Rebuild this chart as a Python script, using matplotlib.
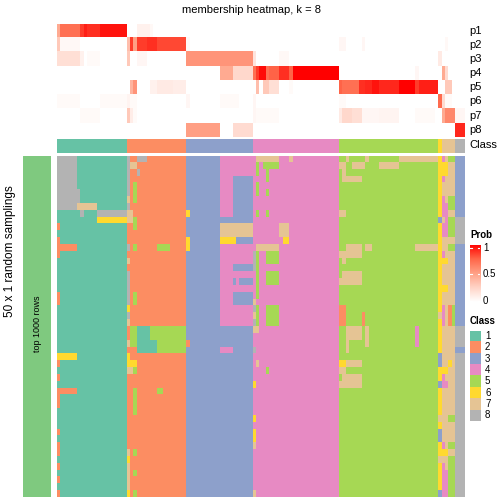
import matplotlib.pyplot as plt
import numpy as np
from matplotlib.colors import ListedColormap, LinearSegmentedColormap

plt.rcParams['font.family'] = ['Liberation Sans', 'DejaVu Sans']

class_colors = ['#66C2A5', '#FC8D62', '#8DA0CB', '#E78AC3',
                '#A6D854', '#FFD92F', '#E5C494', '#B3B3B3']
class_names = ['1', '2', '3', '4', '5', '6', '7', '8']
class_sizes = [21, 18, 20, 26, 30, 1, 4, 3]   # samples per class, left to right
prob_labels = ['p1', 'p2', 'p3', 'p4', 'p5', 'p6', 'p7', 'p8']

# membership probabilities: (first sample, last sample, prob)
p1 = [(0, 0, .45), (1, 6, .7), (7, 7, .85), (8, 8, .92), (9, 12, .88), (13, 20, .95),
      (24, 27, .08), (28, 28, .04)]
p2 = [(0, 0, .3), (1, 6, .04), (21, 21, .35), (22, 22, .85), (23, 23, .5), (24, 26, .85),
      (27, 29, .88), (30, 38, .82), (39, 39, .04), (85, 86, .05), (92, 92, .05), (117, 117, .04)]
p3 = [(0, 6, .18), (7, 7, .08), (9, 12, .03), (21, 21, .3), (24, 26, .05), (39, 58, .55),
      (59, 59, .15), (67, 69, .04), (115, 115, .12)]
p4 = [(49, 52, .45), (53, 58, .22), (59, 59, .7), (60, 60, .85), (61, 62, .97), (63, 63, .7),
      (64, 66, .75), (67, 69, .88), (70, 70, .75), (71, 84, 1.0), (108, 108, .05),
      (116, 116, .45), (117, 117, .2)]
p5 = [(22, 22, .4), (23, 23, .55), (28, 29, .08), (30, 34, .12), (35, 38, .1), (60, 60, .35),
      (62, 63, .3), (64, 66, .18), (70, 70, .03), (85, 85, .75), (86, 90, .7), (91, 92, .88),
      (93, 94, .9), (95, 96, .95), (97, 102, .9), (103, 107, 1.0), (108, 108, .85),
      (109, 114, .92), (117, 118, .3)]
p6 = [(0, 6, .03), (13, 20, .03), (21, 21, .06), (22, 23, .03), (39, 39, .05), (49, 54, .03),
      (59, 59, .05), (85, 86, .03), (115, 115, .72), (116, 116, .2), (117, 118, .03)]
p7 = [(7, 12, .03), (21, 21, .3), (22, 22, .1), (23, 23, .03), (59, 59, .05), (60, 66, .03),
      (85, 85, .12), (86, 88, .22), (89, 91, .18), (92, 96, .05), (97, 102, .06),
      (108, 113, .03), (116, 116, .45), (117, 119, .6), (120, 122, .05)]
p8 = [(39, 48, .5), (53, 58, .2), (120, 122, .9)]

# 50 random samplings: blocks that differ from the consensus class
# (first row, last row, first sample, last sample, class)
patches = [
    (0, 7, 1, 5, 8), (5, 6, 6, 6, 8), (7, 7, 6, 11, 7), (8, 8, 7, 7, 8), (8, 8, 12, 20, 8),
    (9, 9, 12, 20, 6), (13, 13, 1, 5, 2), (29, 29, 1, 5, 6), (34, 34, 1, 5, 2),
    (0, 0, 24, 26, 8), (2, 2, 24, 24, 8), (13, 13, 30, 33, 5), (25, 26, 24, 27, 1),
    (25, 26, 28, 38, 5), (27, 28, 24, 29, 1), (27, 28, 30, 38, 5), (34, 34, 30, 31, 5),
    (8, 8, 39, 39, 6), (12, 13, 39, 39, 6), (27, 27, 39, 39, 2),
    (0, 2, 49, 58, 4), (3, 8, 49, 52, 4), (10, 11, 49, 58, 7), (12, 12, 49, 53, 6),
    (13, 24, 49, 58, 4), (16, 16, 53, 58, 3), (18, 18, 53, 53, 3), (18, 18, 55, 58, 3),
    (20, 21, 53, 58, 3), (28, 28, 49, 52, 4),
    (0, 0, 60, 66, 7), (0, 0, 70, 70, 7), (1, 1, 60, 60, 5), (1, 1, 62, 66, 5),
    (2, 3, 63, 63, 5), (2, 2, 60, 60, 5), (4, 5, 60, 60, 5), (5, 5, 63, 63, 5),
    (8, 8, 60, 60, 5), (8, 8, 63, 63, 5), (10, 11, 67, 69, 7), (12, 12, 68, 69, 6),
    (13, 13, 60, 66, 7), (14, 15, 63, 66, 5), (14, 20, 60, 60, 5), (14, 16, 59, 59, 8),
    (17, 18, 63, 66, 5), (21, 21, 59, 59, 7), (22, 24, 60, 60, 5), (22, 24, 63, 66, 5),
    (22, 22, 59, 59, 8), (23, 23, 59, 59, 7), (24, 24, 59, 59, 8), (25, 25, 59, 60, 7),
    (28, 28, 59, 59, 8), (30, 30, 60, 60, 7), (31, 31, 63, 63, 5), (33, 33, 59, 59, 6),
    (38, 38, 59, 59, 6), (40, 41, 59, 59, 6), (42, 42, 59, 59, 7), (49, 49, 59, 59, 7),
    (0, 0, 87, 87, 7), (0, 0, 93, 93, 7), (0, 0, 103, 114, 7), (1, 1, 85, 86, 7),
    (1, 1, 89, 92, 7), (1, 1, 97, 102, 7), (2, 2, 86, 86, 7), (3, 3, 86, 91, 7),
    (8, 8, 85, 86, 7), (13, 13, 87, 91, 7), (13, 13, 93, 94, 7), (13, 13, 108, 114, 7),
    (14, 14, 85, 91, 7), (15, 15, 86, 86, 7), (17, 17, 86, 91, 7), (18, 18, 85, 91, 7),
    (22, 24, 85, 86, 2), (23, 24, 92, 92, 2), (25, 26, 87, 91, 7), (25, 27, 93, 93, 7),
    (27, 28, 87, 87, 7), (25, 27, 108, 108, 4), (30, 30, 85, 86, 6), (30, 30, 87, 91, 7),
    (31, 31, 85, 86, 7), (32, 32, 86, 91, 7), (33, 33, 85, 91, 7),
]

# single samples read row by row (rows 0..49)
stripes = {
    0: ("88888888" "11" "2" "1" "222" "11111" "22" "1111111" "6" "2" "1" "2" "1"
        "222" "111" "2" "1" "22" "1" "2" "1" "2" "1" "2"),
    21: ("888888" "7" "8" "77" "222" "8" "2" "7" "2" "88888" "6" "8" "7" "22" "7" "2"
         "66" "7" "22222222222" "7" "6" "7777" "6"),
    22: ("2" "7" "222222" "77" "222222222222222" "555" "22" "6" "7"
         "222222222222222222"),
    23: ("2" "7" "22" "555" "22" "55" "22" "5" "222222" "55" "222" "555" "22" "6" "5"
         "22" "5555" "22222" "5" "22" "5" "22" "5"),
    115: ("666666666" "3" "6666666666666" "7" "66666" "33" "66" "3" "6666" "7" "6"
          "33" "66" "7" "6666" "3"),
    116: ("4" "66" "4" "77" "444" "7" "44" "77" "4" "6" "777" "6" "77" "444" "777777"
          "6" "44" "77777777" "4" "6" "7" "44444"),
    117: ("7" "66" "7777" "44444" "777" "6" "777" "6" "77777777777" "6" "7" "4"
          "777777777" "6" "77" "4444"),
    118: ("5" "77777" "55" "7" "555" "7" "5" "77777777" "222" "77777" "6" "7777777"
          "5" "777" "5" "7" "555555"),
    119: ("5" "77777" "55" "7" "555" "7" "5" "77777777" "555" "77777" "7" "7777777"
          "5" "777" "5" "7" "555555"),
    120: "333333333" "8888" "333333333333" "888" "3" "888888888888888888888",
}
stripes[121] = stripes[120]
stripes[122] = stripes[120]

n_rows = 50
consensus = np.repeat(np.arange(1, 9), class_sizes)
n_cols = len(consensus)

prob = np.zeros((8, n_cols))
for i, segs in enumerate([p1, p2, p3, p4, p5, p6, p7, p8]):
    for c0, c1, v in segs:
        prob[i, c0:c1 + 1] = v

samp = np.tile(consensus, (n_rows, 1))
for r0, r1, c0, c1, k in patches:
    samp[r0:r1 + 1, c0:c1 + 1] = k
for c, s in stripes.items():
    samp[:, c] = [int(ch) for ch in s[:n_rows]]

W, H = 504, 504
fig = plt.figure(figsize=(W / 100, H / 100), dpi=100)


def px_axes(x0, y0, x1, y1):
    ax = fig.add_axes([x0 / W, 1 - y1 / H, (x1 - x0) / W, (y1 - y0) / H])
    ax.set_axis_off()
    return ax


prob_cmap = LinearSegmentedColormap.from_list(
    'prob', ['#FFFFFF', '#FFD3C6', '#FFA085', '#FF6548', '#FF0000'])
class_cmap = ListedColormap(class_colors)

# probability rows
ax = px_axes(57, 24, 465, 137.5)
ax.imshow(prob, cmap=prob_cmap, vmin=0, vmax=1, aspect='auto', interpolation='nearest')
for i, lab in enumerate(prob_labels):
    fig.text(469 / W, 1 - (31 + i * 14.1) / H, lab, fontsize=8, va='center')

# class bar
ax = px_axes(57, 138.5, 465, 152.8)
ax.imshow(consensus[None, :], cmap=class_cmap, vmin=0.5, vmax=8.5, aspect='auto',
          interpolation='nearest')
fig.text(469 / W, 1 - 145.5 / H, 'Class', fontsize=8, va='center')

# random samplings
ax = px_axes(57, 155.5, 465, 497)
ax.imshow(samp, cmap=class_cmap, vmin=0.5, vmax=8.5, aspect='auto', interpolation='nearest')

# left annotation
ax = px_axes(23, 155.5, 50.5, 497)
ax.add_patch(plt.Rectangle((0, 0), 1, 1, color='#7FC97F'))
fig.text(37 / W, 1 - 324 / H, 'top 1000 rows', fontsize=6.5, rotation=90,
         ha='center', va='center')
fig.text(10 / W, 1 - 251 / H, '50 x 1 random samplings', fontsize=8.5, rotation=90,
         ha='center', va='center')

fig.text(251 / W, 1 - 10 / H, 'membership heatmap, k = 8', fontsize=8, ha='center',
         va='center')

# Prob legend
fig.text(470 / W, 1 - 235 / H, 'Prob', fontsize=7, fontweight='bold', va='center')
ax = px_axes(470, 245, 480, 302)
ax.imshow(np.linspace(1, 0, 100)[:, None], cmap=prob_cmap, vmin=0, vmax=1, aspect='auto',
          extent=(0, 1, 0, 1))
for t, yy in [(1.0, 248), (0.5, 274), (0.0, 301)]:
    fig.text(483 / W, 1 - yy / H, '{:g}'.format(t), fontsize=7, va='center')
    ty = (302 - yy) / 57
    ax.plot([0, 0.2], [ty, ty], color='white', lw=0.8)
    ax.plot([0.8, 1], [ty, ty], color='white', lw=0.8)
ax.set_xlim(0, 1)
ax.set_ylim(0, 1)

# Class legend
fig.text(470 / W, 1 - 321 / H, 'Class', fontsize=7, fontweight='bold', va='center')
ax = px_axes(470, 330.5, 481, 421)
ax.imshow(np.arange(1, 9)[:, None], cmap=class_cmap, vmin=0.5, vmax=8.5, aspect='auto')
for i, lab in enumerate(class_names):
    fig.text(485 / W, 1 - (336 + i * 11.3) / H, lab, fontsize=7, va='center')

plt.savefig('out.png', dpi=100)
